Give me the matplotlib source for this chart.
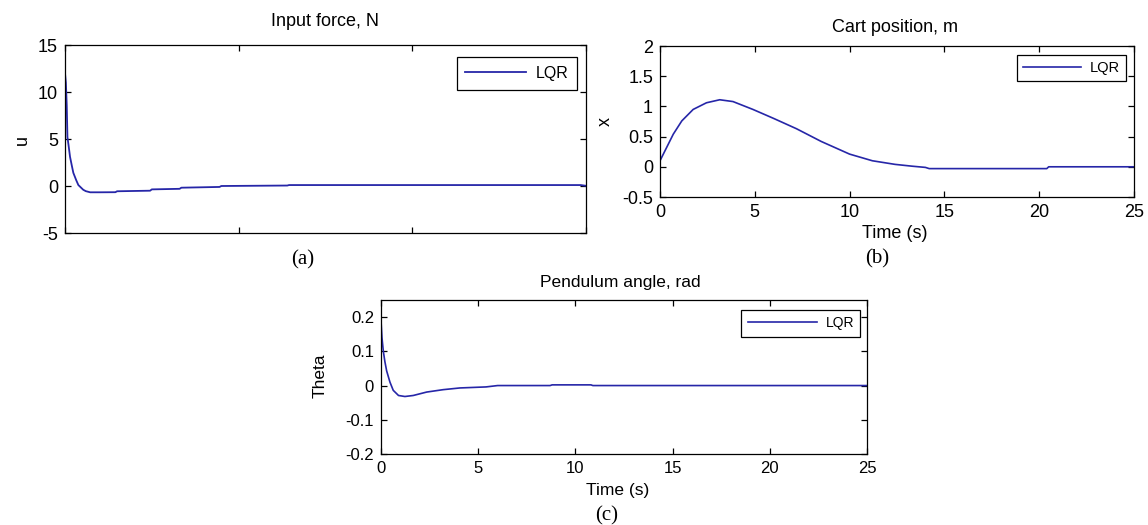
import numpy as np
import matplotlib.pyplot as plt

plt.rcParams['font.family'] = ['Liberation Sans', 'DejaVu Sans']
plt.rcParams['axes.unicode_minus'] = False

W, H = 1148, 525

# data
t_u = [0, 0.05, 0.1, 0.14, 0.2, 0.29, 0.4, 0.48, 0.65, 0.77, 1.05, 1.2, 1.45, 2.0, 2.9, 3.0, 4.9, 5.0, 6.6, 6.7, 8.9, 9.0, 12.8, 12.9, 29.7, 30]
u = [12.0, 11.0, 8.6, 5.2, 4.4, 3.1, 2.1, 1.4, 0.6, 0.1, -0.4, -0.55, -0.67, -0.67, -0.66, -0.56, -0.5, -0.36, -0.3, -0.18, -0.1, 0.0, 0.05, 0.1, 0.1, 0.02]

t_x = [0, 0.35, 0.7, 1.15, 1.75, 2.45, 3.15, 3.85, 4.9, 6.0, 7.2, 8.5, 10.0, 11.2, 12.4, 13.3, 14.0, 14.2, 20.4, 20.5, 25]
x = [0.1, 0.32, 0.54, 0.76, 0.95, 1.06, 1.11, 1.08, 0.95, 0.8, 0.63, 0.42, 0.21, 0.1, 0.04, 0.01, -0.01, -0.03, -0.03, 0.0, 0.0]

t_th = [0, 0.05, 0.12, 0.2, 0.29, 0.46, 0.63, 0.9, 1.23, 1.66, 2.35, 3.2, 4.06, 5.4, 6.0, 8.7, 8.8, 10.8, 10.9, 25]
theta = [0.19, 0.14, 0.10, 0.07, 0.043, 0.01, -0.014, -0.029, -0.032, -0.029, -0.019, -0.012, -0.007, -0.004, 0.0, 0.0, 0.002, 0.002, 0.0, 0.0]

blue = '#2626a8'

fig = plt.figure(figsize=(W / 100, H / 100), dpi=100)


def px_axes(l, t, r, b):
    return fig.add_axes([l / W, 1 - b / H, (r - l) / W, (b - t) / H])


def px_text(xp, yp, s, **kw):
    fig.text(xp / W, 1 - yp / H, s, ha='center', va='center', **kw)


def style(ax, fs):
    ax.tick_params(direction='in', top=True, right=True, length=4, width=0.9,
                   labelsize=fs, pad=5, colors='black')
    for sp in ax.spines.values():
        sp.set_linewidth(0.9)


def legend(ax, anchor, fs, hl=4.0, bp=0.45):
    leg = ax.legend(loc='upper right', bbox_to_anchor=anchor, fontsize=fs,
                    handlelength=hl, handletextpad=0.6, borderaxespad=0,
                    borderpad=bp, fancybox=False, framealpha=1)
    leg.get_frame().set_edgecolor('black')
    leg.get_frame().set_linewidth(0.9)


# (a) input force
ax1 = px_axes(65, 45, 586, 233)
ax1.plot(t_u, u, color=blue, lw=1.3, label='LQR')
ax1.set_xlim(0, 30)
ax1.set_ylim(-5, 15)
ax1.set_xticks([0, 10, 20, 30])
ax1.set_xticklabels([])
ax1.set_yticks([-5, 0, 5, 10, 15])
style(ax1, 13)
legend(ax1, (0.983, 0.936), 11.5, hl=3.8, bp=0.55)
px_text(325, 22, 'Input force, N', fontsize=13)
px_text(22, 140, 'u', fontsize=13, rotation=90)
px_text(303, 260, '(a)', fontsize=15, family='Liberation Serif')

# (b) cart position
ax2 = px_axes(660, 46, 1134, 197)
ax2.plot(t_x, x, color=blue, lw=1.2, label='LQR')
ax2.set_xlim(0, 25)
ax2.set_ylim(-0.5, 2)
ax2.set_xticks([0, 5, 10, 15, 20, 25])
ax2.set_yticks([-0.5, 0, 0.5, 1, 1.5, 2])
ax2.set_yticklabels(['-0.5', '0', '0.5', '1', '1.5', '2'])
style(ax2, 13)
legend(ax2, (0.983, 0.94), 10.5, hl=4.0, bp=0.4)
px_text(895, 28, 'Cart position, m', fontsize=13)
px_text(605, 122, 'x', fontsize=13, rotation=90)
px_text(895, 233, 'Time (s)', fontsize=13)
px_text(877, 259, '(b)', fontsize=15, family='Liberation Serif')

# (c) pendulum angle
ax3 = px_axes(381, 300, 867, 454)
ax3.plot(t_th, theta, color=blue, lw=1.2, label='LQR')
ax3.set_xlim(0, 25)
ax3.set_ylim(-0.2, 0.25)
ax3.set_xticks([0, 5, 10, 15, 20, 25])
ax3.set_yticks([-0.2, -0.1, 0, 0.1, 0.2])
ax3.set_yticklabels(['-0.2', '-0.1', '0', '0.1', '0.2'])
style(ax3, 12)
legend(ax3, (0.986, 0.935), 10, hl=5.0, bp=0.45)
px_text(620, 282, 'Pendulum angle, rad', fontsize=12.5)
px_text(320, 376, 'Theta', fontsize=12.5, rotation=90)
px_text(618, 490, 'Time (s)', fontsize=12.5)
px_text(607, 516, '(c)', fontsize=15, family='Liberation Serif')

fig.savefig('out.png', dpi=100)
